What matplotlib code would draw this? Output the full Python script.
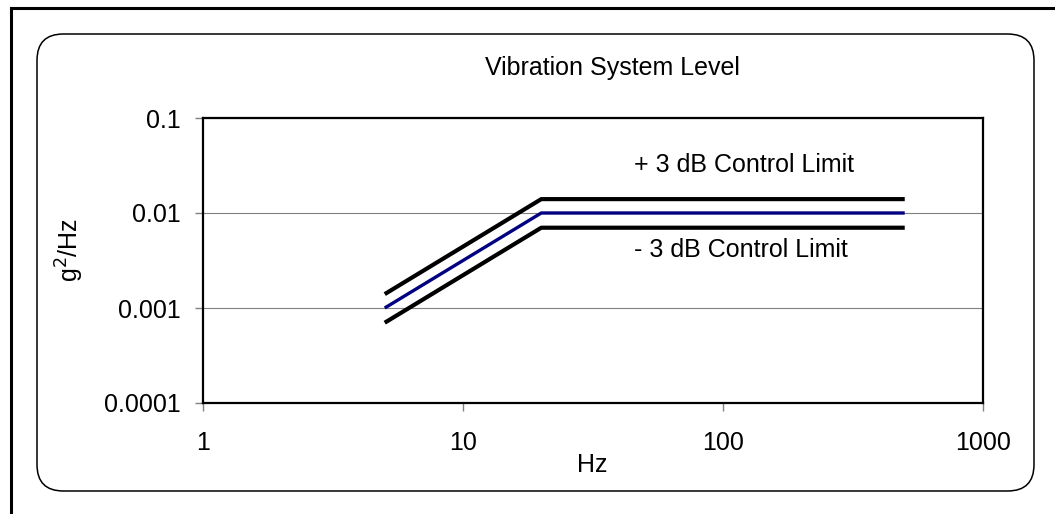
import matplotlib
matplotlib.use("Agg")
import matplotlib.pyplot as plt
from matplotlib.patches import FancyBboxPatch
from matplotlib.lines import Line2D

# profile breakpoints (Hz) and levels (g^2/Hz)
freq = [5, 20, 500]
level = [0.001, 0.01, 0.01]
upper = [0.0014, 0.014, 0.014]
lower = [0.0007, 0.007, 0.007]

xticks = [1, 10, 100, 1000]
xtick_labels = ["1", "10", "100", "1000"]
yticks = [0.0001, 0.001, 0.01, 0.1]
ytick_labels = ["0.0001", "0.001", "0.01", "0.1"]

plt.rcParams['font.family'] = ['Liberation Sans', 'DejaVu Sans']
FS = 18

W, H = 1055, 514
fig = plt.figure(figsize=(W / 100, H / 100), dpi=100)

# outer frame (top and left edges only visible)
fig.add_artist(Line2D([11 / W, 11 / W], [0, 1 - 8 / H], transform=fig.transFigure,
                      color='black', lw=2.2))
fig.add_artist(Line2D([11 / W, 1], [1 - 8 / H, 1 - 8 / H], transform=fig.transFigure,
                      color='black', lw=2.2))

# rounded chart area
box = FancyBboxPatch((37 / W, 1 - 491 / H), (1034 - 37) / W, (491 - 34) / H,
                     boxstyle="round,pad=0,rounding_size=0.025",
                     transform=fig.transFigure, facecolor='none',
                     edgecolor='black', lw=1.1, mutation_aspect=W / H)
fig.add_artist(box)

ax = fig.add_axes([203 / W, 1 - 403 / H, 780 / W, 285 / H])
ax.set_xscale('log')
ax.set_yscale('log')
ax.set_xlim(1, 1000)
ax.set_ylim(0.0001, 0.1)

ax.plot(freq, upper, color='black', lw=3, solid_capstyle='butt')
ax.plot(freq, lower, color='black', lw=3, solid_capstyle='butt')
ax.plot(freq, level, color='#000080', lw=2.4, solid_capstyle='butt')

ax.set_xticks(xticks)
ax.set_xticklabels(xtick_labels)
ax.set_yticks(yticks)
ax.set_yticklabels(ytick_labels)
ax.minorticks_off()
ax.tick_params(direction='out', length=6, width=1, color='#808080',
               labelsize=FS)
ax.tick_params(axis='x', pad=14)
ax.tick_params(axis='y', pad=10)
ax.yaxis.grid(True, color='#808080', lw=0.8)
ax.set_axisbelow(True)
for s in ax.spines.values():
    s.set_linewidth(1.6)
    s.set_color('black')

ax.text(0.694, 0.835, "+ 3 dB Control Limit", transform=ax.transAxes,
        ha='center', va='center', fontsize=FS)
ax.text(0.69, 0.537, "- 3 dB Control Limit", transform=ax.transAxes,
        ha='center', va='center', fontsize=FS)

fig.text(612 / W, 1 - 68 / H, "Vibration System Level", ha='center',
         va='center', fontsize=FS)
fig.text(592 / W, 1 - 465 / H, "Hz", ha='center', va='center', fontsize=FS)
fig.text(70 / W, 1 - 250 / H, "g$^2$/Hz", ha='center', va='center',
         fontsize=FS, rotation=90)

fig.savefig("out.png", dpi=100)
